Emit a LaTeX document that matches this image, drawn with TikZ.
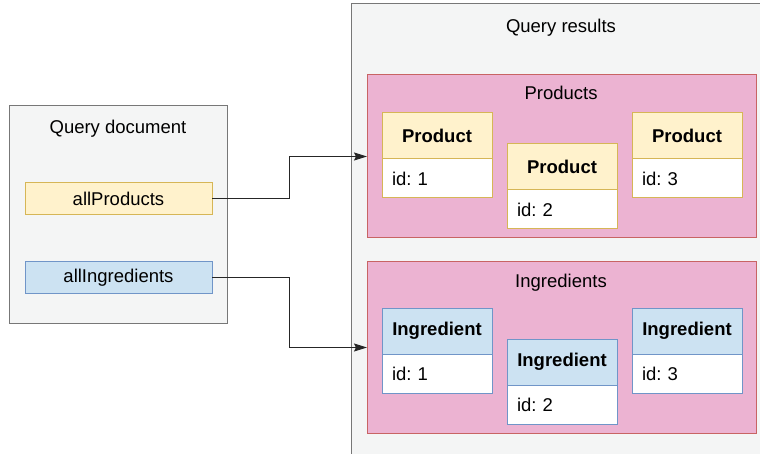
\documentclass[tikz,border=0pt]{standalone}
\usepackage{fontspec}
\setmainfont{Liberation Sans}
\usetikzlibrary{arrows.meta,positioning}
\definecolor{panelfill}{HTML}{F4F5F5}
\definecolor{panelline}{HTML}{777777}
\definecolor{groupfill}{HTML}{ECB3D2}
\definecolor{groupline}{HTML}{C86464}
\definecolor{prodfill}{HTML}{FFF2CC}
\definecolor{prodline}{HTML}{D6B656}
\definecolor{ingrfill}{HTML}{CCE2F2}
\definecolor{ingrline}{HTML}{7095C8}
\tikzset{
  txt/.style={font=\fontsize{18.5}{22}\selectfont},
  panel/.style={fill=panelfill, draw=panelline, line width=1pt, anchor=north west, inner sep=0pt, outer sep=0pt},
  group/.style={fill=groupfill, draw=groupline, line width=1pt, anchor=north west, inner sep=0pt, outer sep=0pt, minimum width=389pt, minimum height=163pt},
  field/.style={txt, line width=1pt, inner sep=0pt, outer sep=0pt, minimum width=187pt, minimum height=32pt},
  cardhead/.style={font=\fontsize{18.5}{22}\selectfont\bfseries, line width=1pt, anchor=north west, inner sep=0pt, outer sep=0pt, minimum width=110pt, minimum height=46pt},
  cardbody/.style={txt, fill=white, line width=1pt, inner xsep=10pt, inner ysep=0pt, outer sep=0pt, text width=90pt, align=left, minimum height=39pt},
  prod/.style={fill=prodfill, draw=prodline},
  ingr/.style={fill=ingrfill, draw=ingrline},
  link/.style={line width=1pt, draw=black!85, -{Stealth[length=13pt, width=8pt, inset=2pt]}},
}
\begin{document}
\frenchspacing
\begin{tikzpicture}[x=1pt, y=-1pt]
\useasboundingbox (0,0) rectangle (760,454);
\fill[panelfill] (351,4) rectangle (760,454);
\draw[panelline, line width=1pt] (760,4) -- (351,4) -- (351,454);
\node[txt] (restitle) at (561,28) {Query results};
\node[panel, minimum width=218pt, minimum height=217pt] (querydoc) at (9,106) {};
\node[txt] (doctitle) at (118,129) {Query document};
\node[field, prod] (allprod) at (118.5,199) {allProducts};
\node[field, ingr] (allingr) at (118.5,277.5) {allIngredients};
\node[group] (products) at (367,75) {};
\node[txt] (prodtitle) at (561,93) {Products};
\node[group, minimum height=171pt] (ingredients) at (367,262) {};
\node[txt] (ingrtitle) at (561,283) {Ingredients};
\node[cardhead, prod] (prodA) at (382,113) {Product};
\node[cardbody, draw=prodline, below=0pt of prodA] (prodAid) {id: 1};
\node[cardhead, prod] (prodB) at (507,144) {Product};
\node[cardbody, draw=prodline, below=0pt of prodB] (prodBid) {id: 2};
\node[cardhead, prod] (prodC) at (632,113) {Product};
\node[cardbody, draw=prodline, below=0pt of prodC] (prodCid) {id: 3};
\node[cardhead, ingr] (ingrA) at (382,308) {Ingredient};
\node[cardbody, draw=ingrline, below=0pt of ingrA] (ingrAid) {id: 1};
\node[cardhead, ingr] (ingrB) at (507,339) {Ingredient};
\node[cardbody, draw=ingrline, below=0pt of ingrB] (ingrBid) {id: 2};
\node[cardhead, ingr] (ingrC) at (632,308) {Ingredient};
\node[cardbody, draw=ingrline, below=0pt of ingrC] (ingrCid) {id: 3};
\draw[link] (allprod.east) -- ++(77,0) |- (products.west);
\draw[link] (allingr.east) -- ++(77,0) |- (ingredients.west);
\end{tikzpicture}
\end{document}
